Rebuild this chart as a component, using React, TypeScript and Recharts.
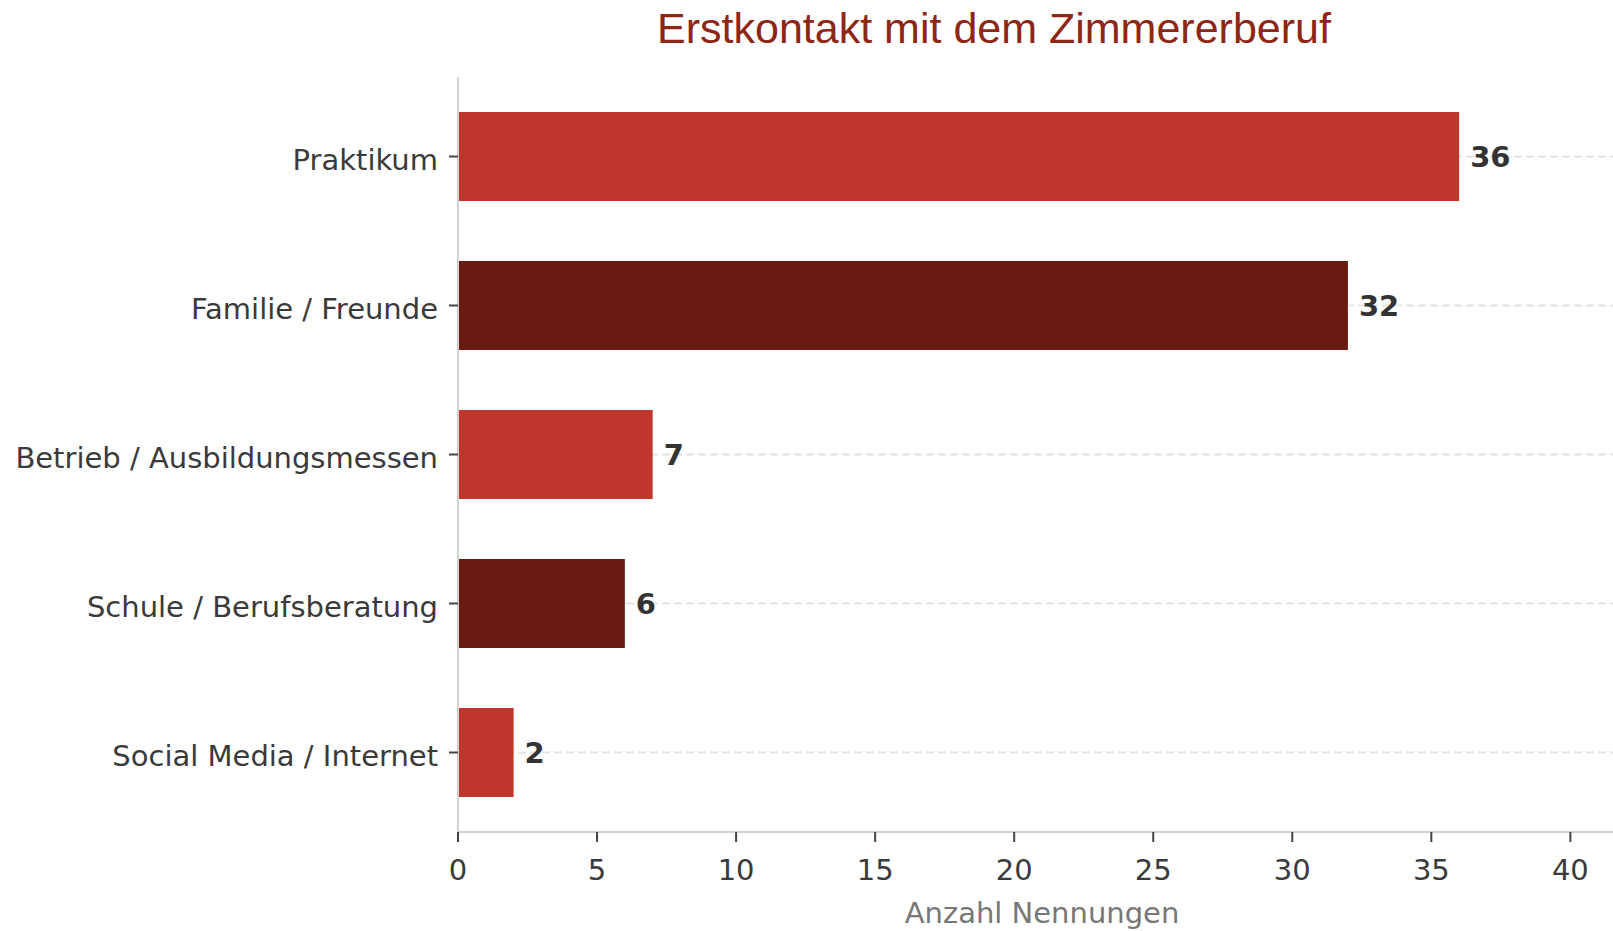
import { Bar, BarChart, CartesianGrid, Cell, LabelList, XAxis, YAxis } from "recharts";

const categories = [
  "Praktikum",
  "Familie / Freunde",
  "Betrieb / Ausbildungsmessen",
  "Schule / Berufsberatung",
  "Social Media / Internet",
];
const counts = [36, 32, 7, 6, 2];
const xTicks = [0, 5, 10, 15, 20, 25, 30, 35, 40];

const RED = "#C0362C";
const DARK = "#6A1B10";
const FONT = "'DejaVu Sans', sans-serif";
const TOP = 77;
const BOTTOM = 832;

const data = categories.map((name, i) => ({ name, count: counts[i] }));

function ValueLabel(props: any) {
  const { x, y, width, height, value } = props;
  return (
    <text
      x={Number(x) + Number(width) + 11}
      y={Number(y) + Number(height) / 2 + 10.5}
      fill="#333333"
      fontSize={29}
      fontWeight="bold"
      fontFamily={FONT}
    >
      {value}
    </text>
  );
}

// dashed guide lines only at the bar rows, not on the plot border
function GridLine(props: any) {
  const { x1, x2, y1, y2, index } = props;
  if (y1 <= TOP + 1 || y1 >= BOTTOM - 1) {
    return <g key={`skip-${index}-${y1}`} />;
  }
  return (
    <line
      key={`h-${index}-${y1}`}
      x1={x1}
      x2={x2}
      y1={y1}
      y2={y2}
      stroke="#e3e3e3"
      strokeWidth={2}
      strokeDasharray="8 4"
    />
  );
}

export default function App() {
  return (
    <div
      style={{
        position: "absolute",
        left: 0,
        top: 0,
        width: 1613,
        height: 931,
        overflow: "hidden",
        background: "#ffffff",
      }}
    >
      <div
        style={{
          position: "absolute",
          left: 994,
          top: 3,
          transform: "translateX(-50%)",
          whiteSpace: "nowrap",
          fontFamily: "'Liberation Sans', Arial, sans-serif",
          fontSize: 43,
          color: "#8E2615",
          lineHeight: "50px",
        }}
      >
        Erstkontakt mit dem Zimmererberuf
      </div>
      <BarChart
        width={1626}
        height={931}
        data={data}
        layout="vertical"
        margin={{ top: TOP, right: 0, bottom: 0, left: 0 }}
        barSize={89}
      >
        <CartesianGrid horizontal={GridLine} vertical={false} />
        <XAxis
          type="number"
          domain={[0, 42]}
          ticks={xTicks}
          height={99}
          axisLine={{ stroke: "#d2d2d2", strokeWidth: 2 }}
          tickLine={{ stroke: "#444444", strokeWidth: 2 }}
          tickSize={10}
          tickMargin={17}
          tick={{ fill: "#3a3a3a", fontSize: 29, fontFamily: FONT }}
          label={{
            value: "Anzahl Nennungen",
            position: "insideBottom",
            offset: 8,
            fill: "#777777",
            fontSize: 29,
            fontFamily: FONT,
          }}
        />
        <YAxis
          type="category"
          dataKey="name"
          width={458}
          padding={{ top: 5, bottom: 5 }}
          axisLine={{ stroke: "#d2d2d2", strokeWidth: 2 }}
          tickLine={{ stroke: "#444444", strokeWidth: 2 }}
          tickSize={9}
          tickMargin={11}
          tick={{ fill: "#3a3a3a", fontSize: 29, fontFamily: FONT, dy: 3.5 }}
        />
        <Bar dataKey="count" isAnimationActive={false}>
          {data.map((d, i) => (
            <Cell key={d.name} fill={i % 2 === 0 ? RED : DARK} />
          ))}
          <LabelList dataKey="count" content={ValueLabel} />
        </Bar>
      </BarChart>
    </div>
  );
}
